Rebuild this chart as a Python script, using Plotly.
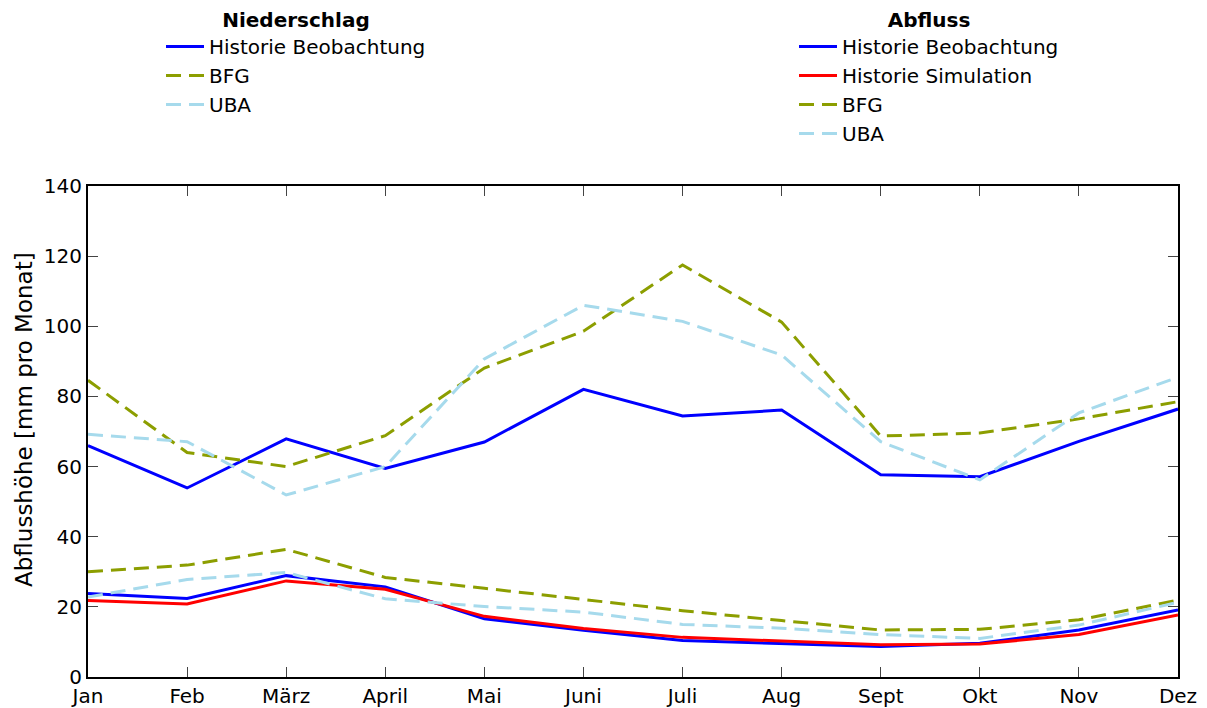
import plotly.graph_objects as go

months = ["Jan", "Feb", "März", "April", "Mai", "Juni", "Juli", "Aug", "Sept", "Okt", "Nov", "Dez"]

# Niederschlag
n_beob = [66.0, 53.9, 67.9, 59.5, 67.0, 82.0, 74.4, 76.1, 57.7, 57.1, 67.2, 76.4]
n_bfg = [84.6, 64.0, 60.0, 68.8, 88.1, 98.6, 117.5, 101.2, 68.7, 69.6, 73.6, 78.5]
n_uba = [69.2, 67.1, 51.9, 60.0, 90.7, 106.0, 101.4, 91.8, 67.1, 56.2, 75.3, 85.5]

# Abfluss
a_beob = [23.8, 22.4, 28.9, 25.7, 16.6, 13.3, 10.4, 9.5, 8.7, 9.6, 13.4, 19.1]
a_sim = [21.8, 20.8, 27.4, 25.0, 17.3, 13.8, 11.3, 10.2, 9.2, 9.4, 12.1, 17.7]
a_bfg = [30.0, 31.9, 36.4, 28.4, 25.3, 22.0, 18.9, 16.1, 13.4, 13.6, 16.3, 21.9]
a_uba = [22.8, 27.8, 29.8, 22.3, 20.1, 18.5, 15.0, 13.9, 12.1, 11.0, 14.8, 21.3]

BLUE = "#0000FF"
RED = "#FF0000"
OLIVE = "#8C9E00"
LBLUE = "#A6DAEC"
DASH = "15px,8px"
FONT = "DejaVu Sans, Liberation Sans, Arial, sans-serif"

x = list(range(len(months)))
fig = go.Figure()

def add(y, name, color, dash, legend):
    fig.add_trace(go.Scatter(
        x=x, y=y, name=name, mode="lines",
        line=dict(color=color, width=3, dash=dash),
        legend=legend,
    ))

add(n_beob, "Historie Beobachtung", BLUE, "solid", "legend")
add(n_bfg, "BFG", OLIVE, DASH, "legend")
add(n_uba, "UBA", LBLUE, DASH, "legend")
add(a_beob, "Historie Beobachtung", BLUE, "solid", "legend2")
add(a_sim, "Historie Simulation", RED, "solid", "legend2")
add(a_bfg, "BFG", OLIVE, DASH, "legend2")
add(a_uba, "UBA", LBLUE, DASH, "legend2")

# the page body adds an 8px offset; the figure is sized to fill the window
OFF = 8
W, H = 1207 - OFF, 708 - OFF
L, R, T, B = 88 - OFF, 29, 186 - OFF, 31
plot_w = W - L - R
plot_h = H - T - B
legend_top = 1 + (T + 7) / plot_h  # slightly above the figure's top edge

legend_common = dict(
    xref="container", yref="paper",
    xanchor="left", yanchor="top",
    bgcolor="rgba(0,0,0,0)", borderwidth=0,
    font=dict(family=FONT, size=20, color="black"),
    itemwidth=38, tracegroupgap=0,
    traceorder="normal",
)

fig.update_layout(
    width=W, height=H,
    paper_bgcolor="white", plot_bgcolor="white",
    margin=dict(l=L, r=R, t=T, b=B, autoexpand=False),
    font=dict(family=FONT, size=20, color="black"),
    showlegend=True,
    legend=dict(
        x=(161 - OFF) / W, y=legend_top,
        title=dict(text="<b>Niederschlag</b>", side="top center",
                   font=dict(family=FONT, size=20, color="black")),
        **legend_common,
    ),
    legend2=dict(
        x=(794 - OFF) / W, y=legend_top,
        title=dict(text="<b>Abfluss</b>", side="top center",
                   font=dict(family=FONT, size=20, color="black")),
        **legend_common,
    ),
    xaxis=dict(
        range=[0, 11], tickmode="array", tickvals=x, ticktext=months,
        tickangle=0, automargin=False,
        ticks="inside", ticklen=10, tickwidth=1, tickcolor="#444",
        showline=True, linecolor="black", linewidth=2, mirror="ticks",
        showgrid=False, zeroline=False,
        tickfont=dict(family=FONT, size=20, color="black"),
    ),
    yaxis=dict(
        range=[0, 140], tickmode="array", tickvals=list(range(0, 141, 20)),
        automargin=False,
        ticks="inside", ticklen=10, tickwidth=1, tickcolor="#444",
        showline=True, linecolor="black", linewidth=2, mirror="ticks",
        showgrid=False, zeroline=False,
        tickfont=dict(family=FONT, size=20, color="black"),
    ),
)

fig.add_annotation(
    text="Abflusshöhe [mm pro Monat]", textangle=-90,
    xref="paper", yref="paper",
    x=(24 - OFF - L) / plot_w, y=(H - B - (420 - OFF)) / plot_h,
    xanchor="center", yanchor="middle", showarrow=False,
    font=dict(family=FONT, size=23, color="black"),
)

fig.write_html("out.html")
